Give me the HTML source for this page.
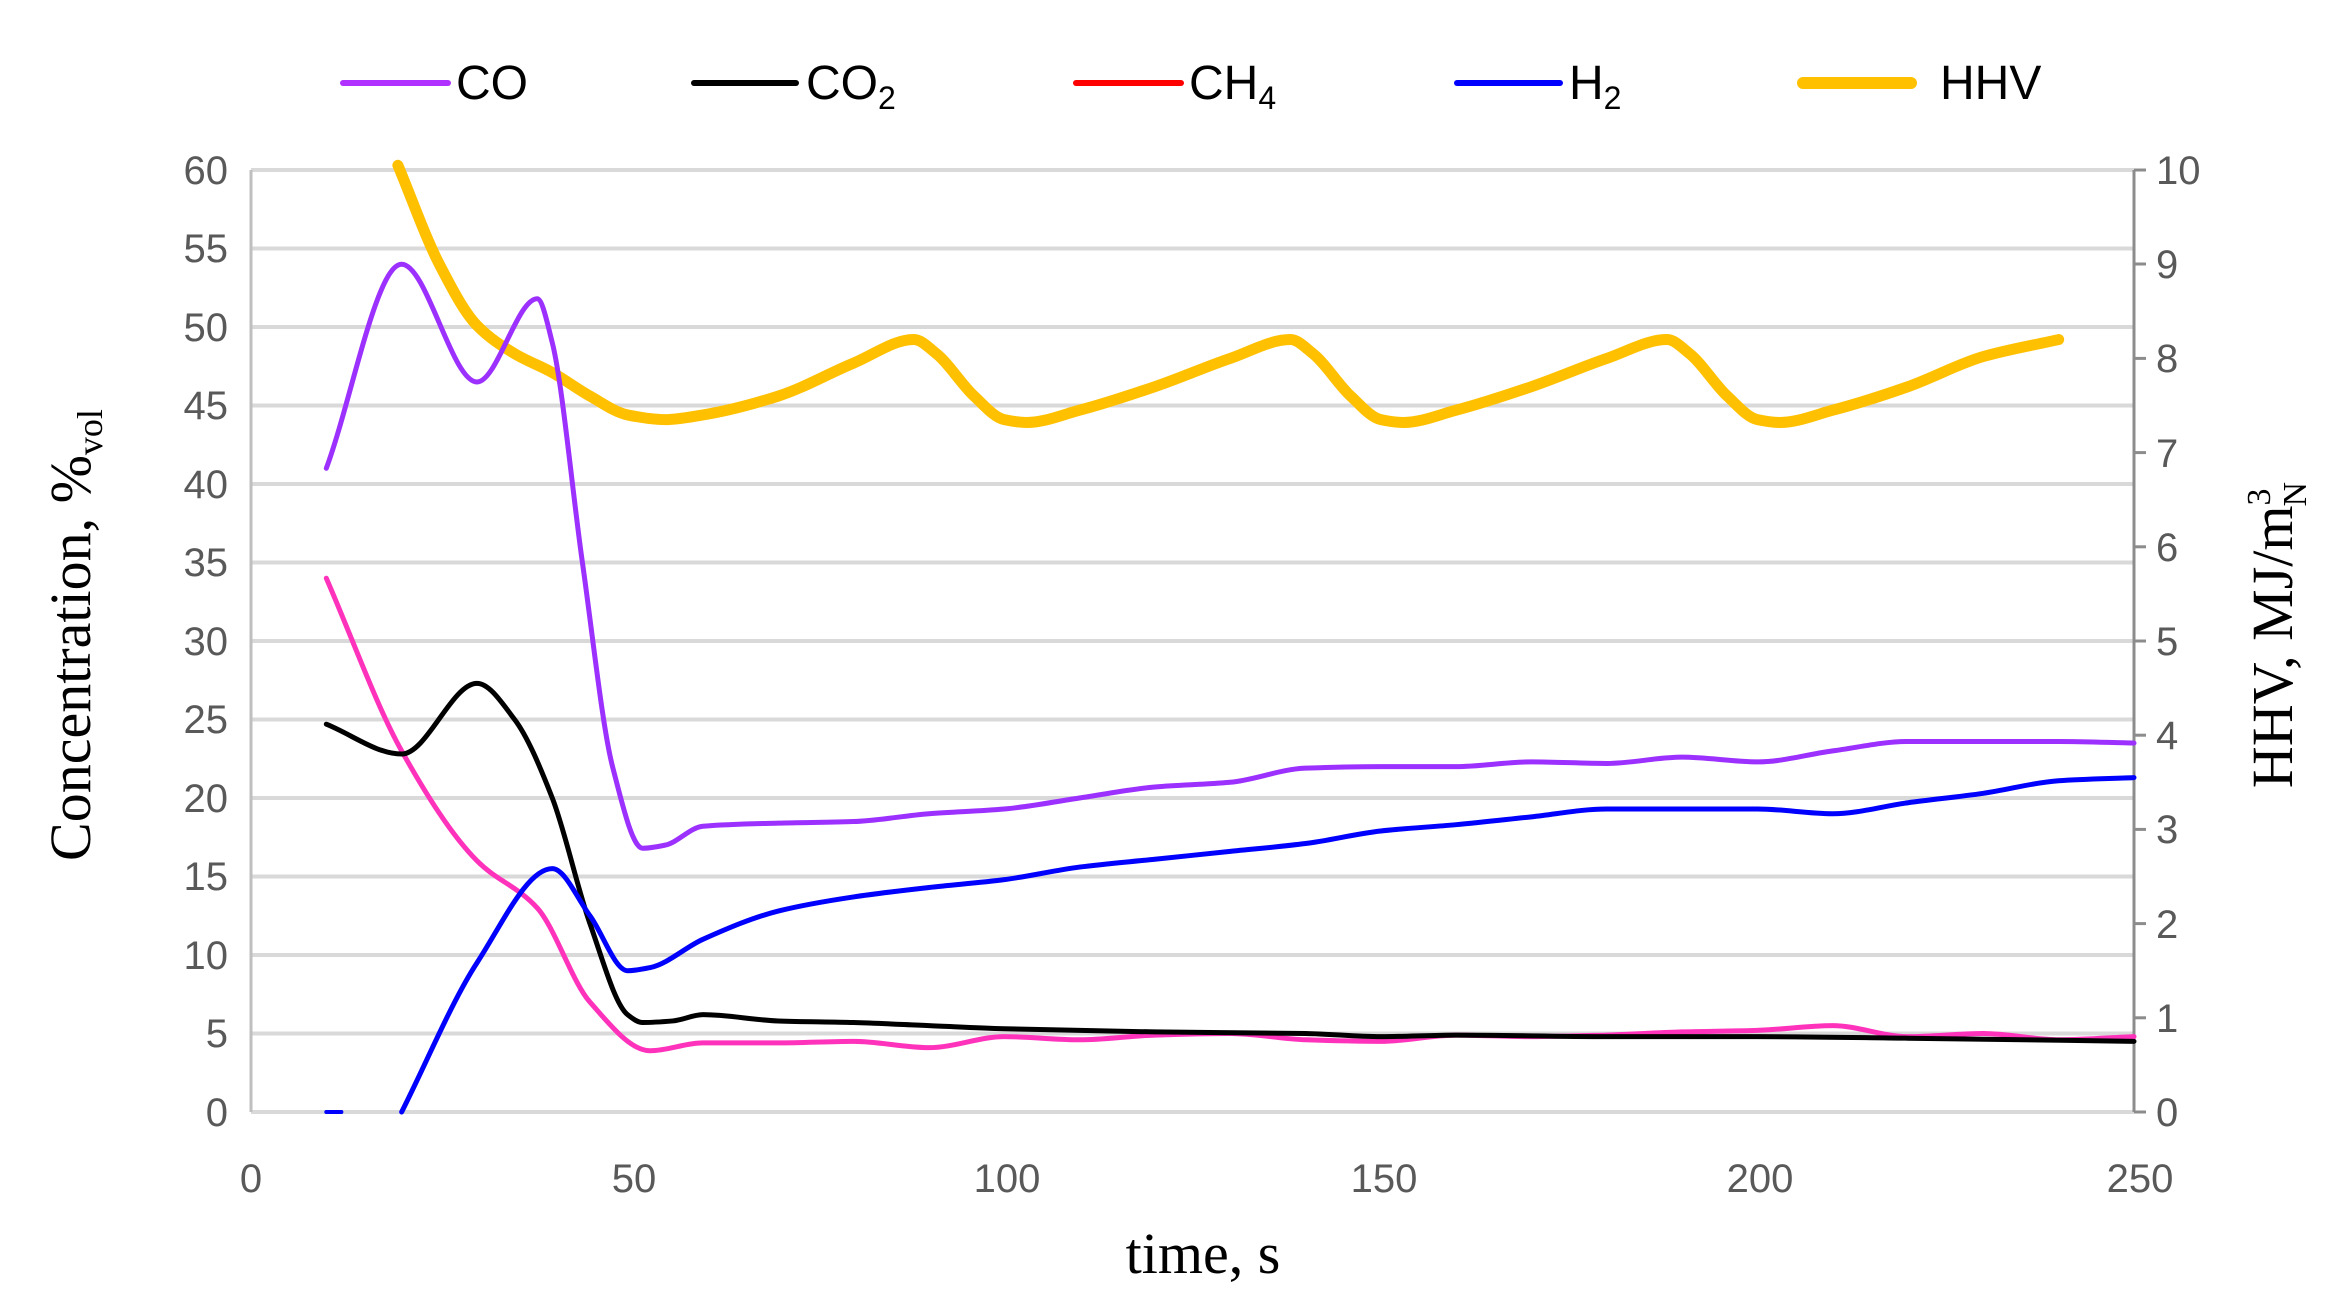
<!DOCTYPE html>
<html><head><meta charset="utf-8"><style>
html,body{margin:0;padding:0;background:#fff;}
svg{display:block;}
.t{font-family:"Liberation Sans Narrow","Liberation Sans",sans-serif;font-size:40px;fill:#595959;}
.lg{font-family:"Liberation Sans Narrow","Liberation Sans",sans-serif;font-size:48px;fill:#000;}
.ax{font-family:"Liberation Serif",serif;font-size:58px;fill:#000;}
</style></head><body>
<svg id="s" width="2344" height="1310" viewBox="0 0 2344 1310" xmlns="http://www.w3.org/2000/svg">
<rect width="2344" height="1310" fill="#fff"/>
<g stroke="#d9d9d9" stroke-width="4">
<line x1="251" x2="2134" y1="170" y2="170"/><line x1="251" x2="2134" y1="248.5" y2="248.5"/>
<line x1="251" x2="2134" y1="327" y2="327"/><line x1="251" x2="2134" y1="405.5" y2="405.5"/>
<line x1="251" x2="2134" y1="484" y2="484"/><line x1="251" x2="2134" y1="562.5" y2="562.5"/>
<line x1="251" x2="2134" y1="641" y2="641"/><line x1="251" x2="2134" y1="719.5" y2="719.5"/>
<line x1="251" x2="2134" y1="798" y2="798"/><line x1="251" x2="2134" y1="876.5" y2="876.5"/>
<line x1="251" x2="2134" y1="955" y2="955"/><line x1="251" x2="2134" y1="1033.5" y2="1033.5"/>
<line x1="251" x2="2134" y1="1112" y2="1112"/>
</g>
<line x1="251" y1="170" x2="251" y2="1112" stroke="#bfbfbf" stroke-width="3"/>
<line x1="2134" y1="170" x2="2134" y2="1112" stroke="#8c8c8c" stroke-width="3"/>
<g stroke="#8c8c8c" stroke-width="3">
<line x1="2134" x2="2146" y1="170" y2="170"/><line x1="2134" x2="2146" y1="264" y2="264"/><line x1="2134" x2="2146" y1="358.4" y2="358.4"/><line x1="2134" x2="2146" y1="452.6" y2="452.6"/><line x1="2134" x2="2146" y1="546.8" y2="546.8"/><line x1="2134" x2="2146" y1="641" y2="641"/><line x1="2134" x2="2146" y1="735.2" y2="735.2"/><line x1="2134" x2="2146" y1="829.4" y2="829.4"/><line x1="2134" x2="2146" y1="923.6" y2="923.6"/><line x1="2134" x2="2146" y1="1017.8" y2="1017.8"/><line x1="2134" x2="2146" y1="1112" y2="1112"/>
</g>
<g class="t" text-anchor="end">
<text x="228" y="184">60</text><text x="228" y="262">55</text><text x="228" y="341">50</text><text x="228" y="419">45</text><text x="228" y="498">40</text><text x="228" y="576">35</text><text x="228" y="655">30</text><text x="228" y="733">25</text><text x="228" y="812">20</text><text x="228" y="890">15</text><text x="228" y="969">10</text><text x="228" y="1047">5</text><text x="228" y="1126">0</text>
</g>
<g class="t">
<text x="2156" y="184">10</text><text x="2156" y="278">9</text><text x="2156" y="372">8</text><text x="2156" y="467">7</text><text x="2156" y="561">6</text><text x="2156" y="655">5</text><text x="2156" y="749">4</text><text x="2156" y="843">3</text><text x="2156" y="938">2</text><text x="2156" y="1032">1</text><text x="2156" y="1126">0</text>
</g>
<g class="t" text-anchor="middle">
<text x="251" y="1192">0</text><text x="634" y="1192">50</text><text x="1007" y="1192">100</text><text x="1384" y="1192">150</text><text x="1760" y="1192">200</text><text x="2140" y="1192">250</text>
</g>
<text class="ax" x="1203" y="1273" text-anchor="middle">time, s</text>
<text class="ax" transform="translate(90,635) rotate(-90)" text-anchor="middle">Concentration, %<tspan font-size="36" dy="12">vol</tspan></text>
<text class="ax" transform="translate(2292,635) rotate(-90)" text-anchor="middle" font-size="56">HHV, MJ/m<tspan font-size="34" dy="-22">3</tspan><tspan font-size="34" dx="-18" dy="36">N</tspan></text>
<g stroke-linecap="round">
<line x1="343" y1="83" x2="448" y2="83" stroke="#b030ff" stroke-width="6"/>
<line x1="694" y1="83" x2="796" y2="83" stroke="#000" stroke-width="6"/>
<line x1="1076" y1="83" x2="1181" y2="83" stroke="#ff0000" stroke-width="6"/>
<line x1="1457" y1="83" x2="1560" y2="83" stroke="#0000ff" stroke-width="6"/>
<line x1="1803" y1="83" x2="1911" y2="83" stroke="#ffc000" stroke-width="12"/>
</g>
<text class="lg" x="456" y="99">CO</text>
<text class="lg" x="806" y="99">CO<tspan font-size="32" dy="10">2</tspan></text>
<text class="lg" x="1189" y="99">CH<tspan font-size="32" dy="10">4</tspan></text>
<text class="lg" x="1569" y="99">H<tspan font-size="32" dy="10">2</tspan></text>
<text class="lg" x="1940" y="99">HHV</text>
<g id="series" fill="none" stroke-linejoin="round" stroke-linecap="round"></g>
</svg>
<script>
const X=t=>251+t*7.532, Y=v=>1112-v*15.7, YR=v=>1112-v*94.2;
function path(pts,yf){
const x=pts.map(a=>X(a[0])),y=pts.map(a=>yf(a[1])),n=x.length;
const s=[],m=new Array(n);
for(let i=0;i<n-1;i++)s.push((y[i+1]-y[i])/(x[i+1]-x[i]));
m[0]=s[0];m[n-1]=s[n-2];
for(let i=1;i<n-1;i++){if(s[i-1]*s[i]<=0)m[i]=0;else{const h0=x[i]-x[i-1],h1=x[i+1]-x[i];m[i]=3*(h0+h1)/((2*h1+h0)/s[i-1]+(h1+2*h0)/s[i]);}}
let d="M"+x[0]+","+y[0];
for(let i=0;i<n-1;i++){const h=(x[i+1]-x[i])/3;d+=" C"+(x[i]+h)+","+(y[i]+m[i]*h)+" "+(x[i+1]-h)+","+(y[i+1]-m[i+1]*h)+" "+x[i+1]+","+y[i+1];}
return d;}
const S=[
{c:"#ffc000",w:11,y:YR,d:[[19.5,10.05],[25,9.0],[30,8.35],[35,8.05],[40,7.85],[45,7.6],[50,7.4],[55,7.35],[60,7.4],[70,7.6],[80,7.95],[88,8.2],[91,8.05],[96,7.6],[100,7.35],[103,7.32],[110,7.45],[120,7.7],[130,8],[138,8.2],[141,8.05],[146,7.6],[150,7.35],[153,7.32],[160,7.45],[170,7.7],[180,8],[188,8.2],[191,8.05],[196,7.6],[200,7.35],[203,7.32],[210,7.45],[220,7.7],[230,8.02],[240,8.2]]},
{c:"#ff33bb",w:5,y:Y,d:[[10,34],[20,23],[30,16],[38,13],[45,7],[53,3.9],[60,4.4],[70,4.4],[80,4.5],[90,4.1],[100,4.8],[110,4.6],[120,4.9],[130,5],[140,4.6],[150,4.5],[160,4.9],[170,4.8],[180,4.9],[190,5.1],[200,5.2],[210,5.5],[220,4.8],[230,5],[240,4.6],[250,4.8]]},
{c:"#000",w:5,y:Y,d:[[10,24.7],[20,22.8],[30,27.3],[35,25],[40,20],[45,12],[50,6.2],[52,5.7],[56,5.8],[60,6.2],[70,5.8],[80,5.7],[90,5.5],[100,5.3],[120,5.1],[140,5],[150,4.8],[160,4.9],[180,4.8],[200,4.8],[220,4.7],[250,4.5]]},
{c:"#0000ff",w:5,y:Y,d:[[20,0],[30,9.5],[40,15.5],[45,12.5],[50,9],[53,9.2],[60,11],[70,12.8],[80,13.7],[90,14.3],[100,14.8],[110,15.6],[120,16.1],[130,16.6],[140,17.1],[150,17.9],[160,18.3],[170,18.8],[180,19.3],[190,19.3],[200,19.3],[210,19],[220,19.7],[230,20.3],[240,21.1],[250,21.3]]},
{c:"#9b30ff",w:5,y:Y,d:[[10,41],[20,54],[30,46.5],[38,51.8],[40,49],[44,35],[48,22],[52,16.8],[55,17],[60,18.2],[70,18.4],[80,18.5],[90,19],[100,19.3],[110,20],[120,20.7],[130,21],[140,21.9],[150,22],[160,22],[170,22.3],[180,22.2],[190,22.6],[200,22.3],[210,23],[220,23.6],[230,23.6],[240,23.6],[250,23.5]]}
];
const g=document.getElementById("series");let h='<line x1="'+X(10)+'" y1="1112" x2="'+X(12)+'" y2="1112" stroke="#0000ff" stroke-width="4"/>';
S.forEach(s=>{h+='<path d="'+path(s.d,s.y)+'" stroke="'+s.c+'" stroke-width="'+s.w+'"/>';});
g.innerHTML=h;
</script>
</body></html>
